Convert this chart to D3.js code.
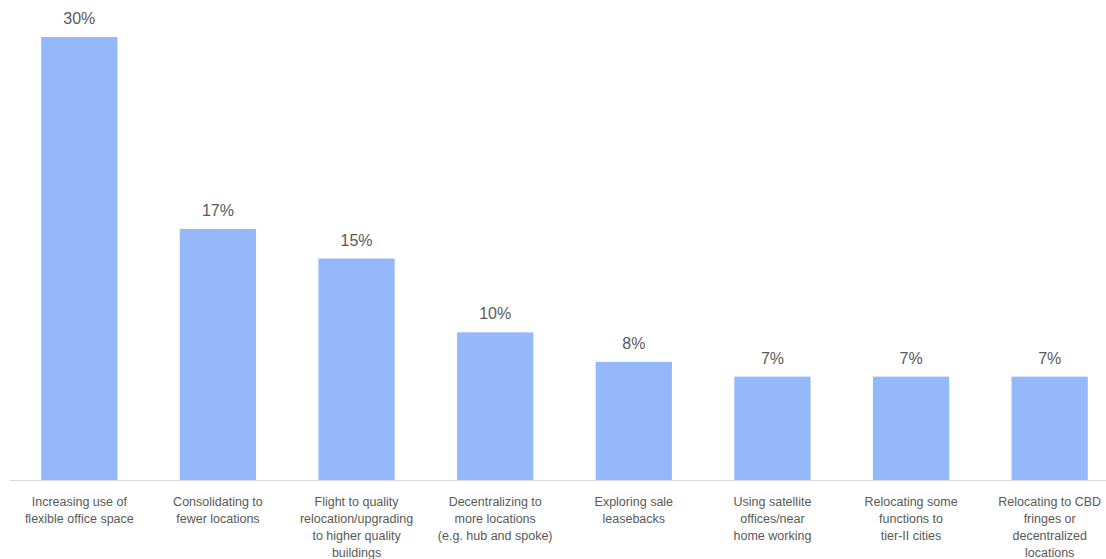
<!DOCTYPE html>
<html>
<head>
<meta charset="utf-8">
<script src="https://cdn.jsdelivr.net/npm/d3@7"></script>
<style>
  body { margin: 0; background: #fff; }
  svg { display: block; font-family: "Liberation Sans", Arial, sans-serif; }
</style>
</head>
<body>
<svg width="1106" height="559"></svg>
<script>
// chart data
const categories = [
  ["Increasing use of", "flexible office space"],
  ["Consolidating to", "fewer locations"],
  ["Flight to quality", "relocation/upgrading", "to higher quality", "buildings"],
  ["Decentralizing to", "more locations", "(e.g. hub and spoke)"],
  ["Exploring sale", "leasebacks"],
  ["Using satellite", "offices/near", "home working"],
  ["Relocating some", "functions to", "tier-II cities"],
  ["Relocating to CBD", "fringes or", "decentralized", "locations"]
];
const values = [0.30, 0.17, 0.15, 0.10, 0.08, 0.07, 0.07, 0.07];

const svg = d3.select("svg"),
  width = +svg.attr("width"),
  height = +svg.attr("height");

const baseY = 480;

const x = d3.scaleBand()
  .domain(d3.range(values.length))
  .range([10, 1119])
  .paddingInner(0.45)
  .paddingOuter(0.225);

const y = d3.scaleLinear()
  .domain([0, 0.30])
  .range([baseY, 37]);

// bars
svg.append("g")
  .selectAll("rect")
  .data(values)
  .enter()
  .append("rect")
  .attr("x", (d, i) => x(i))
  .attr("y", d => y(d))
  .attr("width", x.bandwidth())
  .attr("height", d => baseY - y(d))
  .attr("fill", "#95b8fb");

// axis line
svg.append("line")
  .attr("x1", 10)
  .attr("x2", width)
  .attr("y1", baseY + 0.5)
  .attr("y2", baseY + 0.5)
  .attr("stroke", "#d9d9d9")
  .attr("stroke-width", 1);

// value labels
svg.append("g")
  .selectAll("text")
  .data(values)
  .enter()
  .append("text")
  .attr("x", (d, i) => x(i) + x.bandwidth() / 2)
  .attr("y", d => y(d) - 13)
  .attr("text-anchor", "middle")
  .attr("fill", "#595959")
  .style("font-size", "16px")
  .text(d => d3.format(".0%")(d));

// category labels
const lab = svg.append("g")
  .selectAll("text")
  .data(categories)
  .enter()
  .append("text")
  .attr("x", (d, i) => x(i) + x.bandwidth() / 2)
  .attr("y", 506)
  .attr("text-anchor", "middle")
  .attr("fill", "#595959")
  .style("font-size", "12.5px");

lab.selectAll("tspan")
  .data(d => d)
  .enter()
  .append("tspan")
  .attr("x", function () { return d3.select(this.parentNode).attr("x"); })
  .attr("dy", (d, i) => i === 0 ? 0 : 17)
  .text(d => d);
</script>
</body>
</html>
